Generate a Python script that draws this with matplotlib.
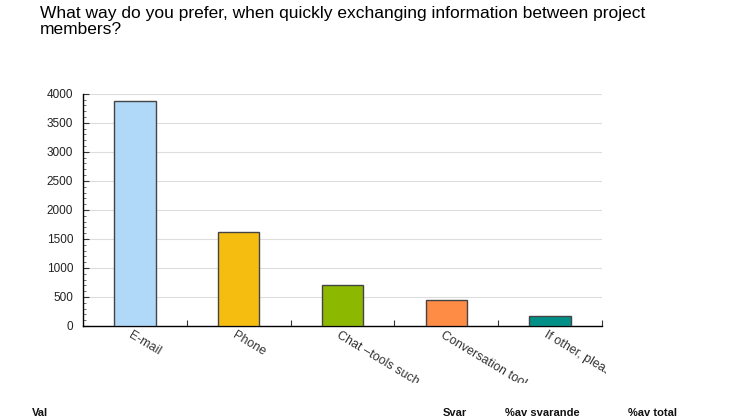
import matplotlib
matplotlib.use("Agg")
import matplotlib.pyplot as plt
from matplotlib.ticker import MultipleLocator
from matplotlib.transforms import Bbox, TransformedBbox

plt.rcParams['font.family'] = ['Liberation Sans', 'DejaVu Sans']

# data
categories = ["E-mail", "Phone", "Chat \u2013tools such", "Conversation tool", "If other, please"]
answers = [3880, 1625, 712, 440, 178]
bar_colors = ["#b0d8f8", "#f5bd10", "#8db800", "#ff8c44", "#009088"]
table_headers = ["Val", "Svar", "%av svarande", "%av total"]

fig = plt.figure(figsize=(7.46, 4.19), dpi=100)
ax = fig.add_axes([0.1113, 0.222, 0.6957, 0.554])

x = list(range(len(categories)))
ax.bar(x, answers, width=0.4, color=bar_colors, edgecolor="#444444", linewidth=1.0, zorder=3)

ax.set_xlim(-0.5, len(categories) - 0.5)
ax.set_ylim(0, 4000)
ax.yaxis.set_major_locator(MultipleLocator(500))
ax.yaxis.set_minor_locator(MultipleLocator(100))
ax.grid(axis='y', color="#dddddd", linewidth=0.8, zorder=0)

for s in ['top', 'right']:
    ax.spines[s].set_visible(False)
for s in ['left', 'bottom']:
    ax.spines[s].set_color("black")
    ax.spines[s].set_linewidth(1.0)

ax.tick_params(axis='y', which='major', direction='in', length=4, color="#333333",
               labelsize=8.5, labelcolor="#222222", pad=7)
ax.tick_params(axis='y', which='minor', direction='in', length=2, color="#555555")

# category boundaries carry the x ticks, labels sit under the bar centres
ax.set_xticks([i + 0.5 for i in x])
ax.tick_params(axis='x', which='major', direction='in', length=4, color="#333333",
               labelbottom=False)

clip = TransformedBbox(Bbox([[0, 36 / 419], [606 / 746, 1]]), fig.transFigure)
for i, lab in enumerate(categories):
    t = ax.text(i - 0.02, -50, lab, rotation=-31, rotation_mode='anchor',
                ha='left', va='top', fontsize=9, color="#333333",
                transform=ax.transData, clip_on=True)
    t.set_clip_box(clip)

fig.text(40 / 746, 1 - 6 / 419,
         "What way do you prefer, when quickly exchanging information between project\nmembers?",
         ha='left', va='top', fontsize=12.5, color="black", linespacing=1.05)

xs = [32, 443, 505, 628]
for xp, h in zip(xs, table_headers):
    fig.text(xp / 746, 1 - 413 / 419, h, ha='left', va='center',
             fontsize=8, fontweight='bold', color="#111111")

fig.savefig("out.png", dpi=100)
